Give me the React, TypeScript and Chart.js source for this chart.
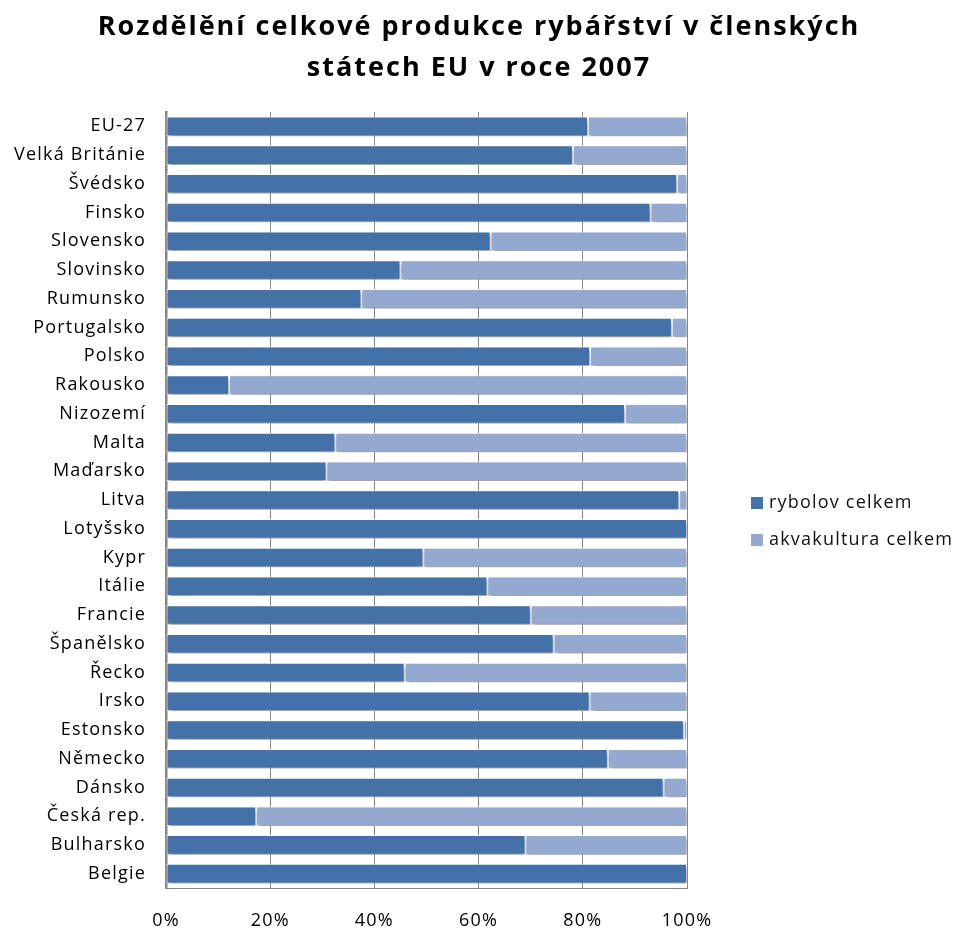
import React, { useEffect, useRef } from "react";
import { Chart, registerables } from "chart.js";

Chart.register(...registerables);

const categories = [
  "EU-27", "Velká Británie", "Švédsko", "Finsko", "Slovensko", "Slovinsko",
  "Rumunsko", "Portugalsko", "Polsko", "Rakousko", "Nizozemí", "Malta",
  "Maďarsko", "Litva", "Lotyšsko", "Kypr", "Itálie", "Francie", "Španělsko",
  "Řecko", "Irsko", "Estonsko", "Německo", "Dánsko", "Česká rep.", "Bulharsko", "Belgie",
];

const rybolov = [
  81.0, 78.1, 98.1, 93.0, 62.3, 45.0, 37.5, 97.1, 81.4, 12.1, 88.1, 32.5,
  30.8, 98.5, 100, 49.4, 61.7, 70.0, 74.4, 45.8, 81.3, 99.4, 84.8, 95.5, 17.3, 69.0, 100,
];

const akvakultura = [
  19.0, 21.9, 1.9, 7.0, 37.7, 55.0, 62.5, 2.9, 18.6, 87.9, 11.9, 67.5,
  69.2, 1.5, 0, 50.6, 38.3, 30.0, 25.6, 54.2, 18.7, 0.6, 15.2, 4.5, 82.7, 31.0, 0,
];

const seriesNames = ["rybolov celkem", "akvakultura celkem"];
const seriesColors = ["#4472A8", "#94A9D0"];
const titleLines = ["Rozdělění celkové produkce rybářství v členských", "státech EU v roce 2007"];

const FONT = "'Open Sans', 'DejaVu Sans', sans-serif";

export default function App() {
  const ref = useRef<HTMLCanvasElement | null>(null);

  useEffect(() => {
    document.body.style.margin = "0";
    const canvas = ref.current!;
    const spacingPlugin = {
      id: "letterSpacing",
      beforeDraw(chart: any) {
        chart.ctx.letterSpacing = "1.2px";
      },
    };
    const shadowPlugin = {
      id: "barShadow",
      beforeDatasetsDraw(chart: any) {
        const ctx = chart.ctx;
        ctx.save();
        ctx.shadowColor = "rgba(0,0,0,0.4)";
        ctx.shadowBlur = 4;
        ctx.shadowOffsetX = 1;
        ctx.shadowOffsetY = 3;
      },
      afterDatasetsDraw(chart: any) {
        chart.ctx.restore();
      },
    };
    const textPlugin = {
      id: "titleAndLegend",
      afterDraw(chart: any) {
        const ctx = chart.ctx;
        ctx.save();
        // title
        ctx.letterSpacing = "2px";
        ctx.font = `bold 27px ${FONT}`;
        ctx.fillStyle = "#000";
        ctx.textAlign = "center";
        ctx.textBaseline = "middle";
        ctx.fillText(titleLines[0], 479, 27);
        ctx.fillText(titleLines[1], 479, 68);
        // legend
        ctx.letterSpacing = "1.2px";
        ctx.font = `18px ${FONT}`;
        ctx.textAlign = "left";
        const ys = [503, 540];
        chart.data.datasets.forEach((ds: any, i: number) => {
          ctx.fillStyle = ds.backgroundColor;
          ctx.fillRect(751, ys[i] - 6, 12, 12);
          ctx.fillStyle = "#111";
          ctx.fillText(ds.label, 769, ys[i]);
        });
        ctx.restore();
      },
    };
    const chart = new Chart(canvas, {
      type: "bar",
      data: {
        labels: categories,
        datasets: [
          {
            label: seriesNames[0],
            data: rybolov,
            backgroundColor: seriesColors[0],
            borderColor: "#ffffff",
            borderWidth: 1,
            borderSkipped: false,
          },
          {
            label: seriesNames[1],
            data: akvakultura,
            backgroundColor: seriesColors[1],
            borderColor: "#ffffff",
            borderWidth: 1,
            borderSkipped: false,
          },
        ],
      },
      options: {
        indexAxis: "y",
        animation: false,
        responsive: false,
        maintainAspectRatio: false,
        layout: { padding: { top: 112, right: 268, left: 0, bottom: 0 } },
        datasets: { bar: { barPercentage: 0.68, categoryPercentage: 1 } },
        plugins: {
          legend: { display: false },
          tooltip: { enabled: false },
          title: { display: false },
        },
        scales: {
          x: {
            stacked: true,
            min: 0,
            max: 100,
            ticks: {
              stepSize: 20,
              callback: (v: any) => v + "%",
              color: "#000",
              font: { family: FONT, size: 18 },
              padding: 22,
            },
            grid: { color: "#868686", lineWidth: 1, drawTicks: false },
            border: { display: true, color: "#868686", width: 1 },
            afterFit: (s: any) => { s.height = 41; },
          },
          y: {
            stacked: true,
            ticks: {
              color: "#000",
              font: { family: FONT, size: 18 },
              padding: 20,
            },
            grid: { display: false, drawTicks: false },
            border: { display: true, color: "#868686", width: 2.5 },
            afterFit: (s: any) => { s.width = 166; },
          },
        },
      },
      plugins: [spacingPlugin, shadowPlugin, textPlugin],
    });
    return () => chart.destroy();
  }, []);

  return <canvas ref={ref} width={955} height={929} style={{ display: "block" }} />;
}
